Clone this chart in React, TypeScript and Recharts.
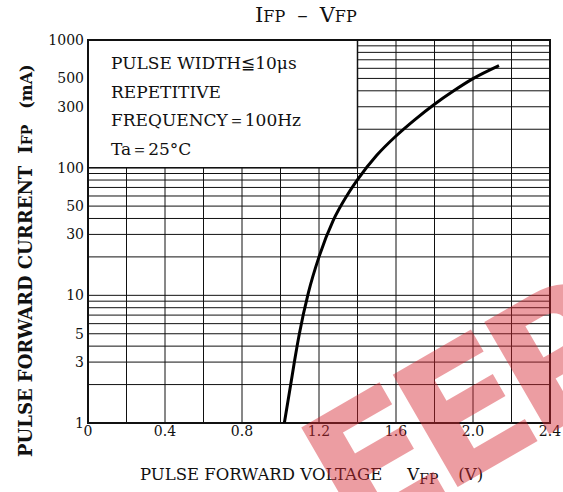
import React from "react";
import {
  LineChart,
  Line,
  CartesianGrid,
  XAxis,
  YAxis,
  ReferenceArea,
} from "recharts";

// values
const voltage = [1.02, 1.053, 1.072, 1.098, 1.145, 1.2, 1.274, 1.344, 1.404, 1.5, 1.6, 1.7, 1.8, 1.9, 2.0, 2.135];
const current = [1, 2, 3, 5, 10.5, 20, 38.6, 60, 82, 125, 177, 239, 314, 400, 498, 630];

const xTicks = [0, 0.4, 0.8, 1.2, 1.6, 2.0, 2.4];
const yTicks = [1, 3, 5, 10, 30, 50, 100, 300, 500, 1000];
const xGrid = [0.2, 0.4, 0.6, 0.8, 1.0, 1.2, 1.4, 1.6, 1.8, 2.0, 2.2];
const yGrid = [
  2, 3, 4, 5, 6, 7, 8, 9,
  10, 20, 30, 40, 50, 60, 70, 80, 90,
  100, 200, 300, 400, 500, 600, 700, 800, 900,
];
const notes = ["PULSE WIDTH≦10μs", "REPETITIVE", "FREQUENCY＝100Hz", "Ta＝25°C"];

const rows = voltage.map((v, i) => ({ v, i: current[i] }));

const FONT = "'DejaVu Serif', serif";
const W = 563;
const H = 492;

export default function App() {
  return (
    <div style={{ position: "absolute", left: 0, top: 0, width: W, height: H, background: "#fff", overflow: "hidden" }}>
      <LineChart
        width={W}
        height={H}
        data={rows}
        margin={{ top: 40, right: 13, bottom: 0, left: 0 }}
      >
        <CartesianGrid
          stroke="#111"
          strokeWidth={1}
          verticalValues={xGrid}
          horizontalValues={yGrid}
        />
        <XAxis
          dataKey="v"
          type="number"
          domain={[0, 2.4]}
          ticks={xTicks}
          tickFormatter={(t: number) => (t === 0 ? "0" : t.toFixed(1))}
          axisLine={false}
          tickLine={false}
          tickSize={0}
          tickMargin={3}
          height={69}
          tick={{ fill: "#111", fontSize: 14, fontFamily: FONT }}
          interval={0}
        />
        <YAxis
          dataKey="i"
          type="number"
          scale="log"
          domain={[1, 1000]}
          allowDataOverflow
          ticks={yTicks}
          axisLine={false}
          tickLine={false}
          tickSize={0}
          tickMargin={4}
          width={88}
          tick={{ fill: "#111", fontSize: 14, fontFamily: FONT }}
          interval={0}
        />
        <ReferenceArea
          x1={0}
          x2={1.4}
          y1={100}
          y2={1000}
          fill="#fff"
          fillOpacity={1}
          stroke="#111"
          strokeWidth={1.5}
          ifOverflow="visible"
        />
        <ReferenceArea
          x1={0}
          x2={2.4}
          y1={1}
          y2={1000}
          fill="none"
          stroke="#111"
          strokeWidth={2}
          ifOverflow="visible"
        />
        <Line
          dataKey="i"
          type="monotone"
          stroke="#000"
          strokeWidth={3}
          dot={false}
          isAnimationActive={false}
        />
      </LineChart>

      <svg
        width={W}
        height={H}
        style={{ position: "absolute", left: 0, top: 0, pointerEvents: "none" }}
        fontFamily={FONT}
        fill="#111"
      >
        <text x={255} y={22} fontSize={21}>
          I<tspan fontSize={16}>FP</tspan>
          <tspan dx={12}>–</tspan>
          <tspan dx={12}>V</tspan>
          <tspan fontSize={16}>FP</tspan>
        </text>

        {notes.map((s, k) => (
          <text key={s} x={111} y={69 + k * 28.5} fontSize={17}>
            {s}
          </text>
        ))}

        <text x={140} y={480} fontSize={16.5}>
          PULSE FORWARD VOLTAGE
          <tspan dx={25}>V</tspan>
          <tspan fontSize={14} dy={4}>FP</tspan>
          <tspan dx={20} dy={-4}>(V)</tspan>
        </text>

        <text
          transform="translate(32, 457) rotate(-90)"
          fontSize={18}
          fontWeight="bold"
        >
          PULSE FORWARD CURRENT
          <tspan dx={12}>I</tspan>
          <tspan fontSize={14}>FP</tspan>
          <tspan dx={16} fontSize={16}>(mA)</tspan>
        </text>

        <g transform="translate(352, 548) rotate(-30)" opacity={0.45}>
          <text
            x={0}
            y={0}
            fontSize={178}
            fontWeight="bold"
            letterSpacing={-16}
            fontFamily="'DejaVu Sans', sans-serif"
            fill="rgb(214,40,50)"
          >
            EEP
          </text>
        </g>
      </svg>
    </div>
  );
}
